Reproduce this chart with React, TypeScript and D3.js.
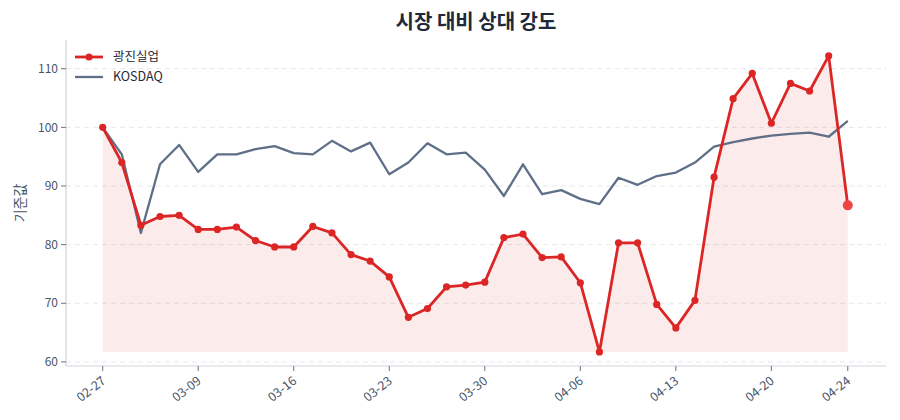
import React from "react";
import * as d3 from "d3";

// 시장 대비 상대 강도 (기준 = 100)
const stockName = "광진실업";
const indexName = "KOSDAQ";

const stockValues = [
  100, 94.0, 83.3, 84.8, 85.0, 82.6, 82.6, 83.0, 80.7, 79.6,
  79.6, 83.1, 82.0, 78.3, 77.2, 74.5, 67.6, 69.1, 72.8, 73.1,
  73.6, 81.2, 81.8, 77.8, 77.9, 73.5, 61.7, 80.3, 80.3, 69.8,
  65.8, 70.5, 91.5, 104.9, 109.2, 100.7, 107.5, 106.2, 112.2, 86.7,
];

const indexValues = [
  100, 95.4, 82.0, 93.7, 97.0, 92.4, 95.4, 95.4, 96.3, 96.8,
  95.6, 95.4, 97.7, 95.9, 97.4, 92.0, 94.0, 97.3, 95.4, 95.7,
  92.8, 88.3, 93.7, 88.6, 89.3, 87.8, 86.9, 91.4, 90.2, 91.7,
  92.3, 94.0, 96.7, 97.5, 98.1, 98.6, 98.9, 99.1, 98.4, 101.1,
];

const tickLabels = ["02-27", "03-09", "03-16", "03-23", "03-30", "04-06", "04-13", "04-20", "04-24"];
const tickIndex = [0, 5, 10, 15, 20, 25, 30, 35, 39];
const yTicks = [60, 70, 80, 90, 100, 110];

const W = 900;
const H = 420;
const FONT = "'Noto Sans CJK KR', 'Noto Sans', sans-serif";

const RED = "#dc2626";
const SLATE = "#5f6f87";
const TEXT = "#475569";

export default function App() {
  const left = 66;
  const right = 886;
  const top = 40;
  const bottom = 366;

  const x = d3.scaleLinear().domain([-1.92, 41.0]).range([left, right]);
  const y = d3.scaleLinear().domain([59.3, 114.9]).range([bottom, top]);

  const line = d3
    .line<number>()
    .x((_, i) => x(i))
    .y((d) => y(d));

  const base = d3.min(stockValues) as number;
  const area = d3
    .area<number>()
    .x((_, i) => x(i))
    .y0(y(base))
    .y1((d) => y(d));

  const last = stockValues.length - 1;

  return (
    <svg
      width={W}
      height={H}
      style={{ position: "fixed", left: 0, top: 0, background: "#fff" }}
      fontFamily={FONT}
    >
      <text x={(left + right) / 2} y={29} textAnchor="middle" fontSize={20} fontWeight={700} fill="#1e293b">
        시장 대비 상대 강도
      </text>

      {/* grid */}
      {yTicks.map((t) => (
        <line key={t} x1={left} x2={right} y1={y(t)} y2={y(t)} stroke="#e5e7eb" strokeDasharray="5,4" strokeWidth={1} />
      ))}

      {/* spines */}
      <line x1={left} x2={left} y1={top} y2={bottom} stroke="#d1d5db" strokeWidth={1.2} />
      <line x1={left} x2={right} y1={bottom} y2={bottom} stroke="#d1d5db" strokeWidth={1.2} />

      {/* y axis */}
      {yTicks.map((t) => (
        <g key={t} transform={`translate(${left},${y(t)})`}>
          <line x1={-5} x2={0} stroke="#64748b" />
          <text x={-8} dy="0.35em" textAnchor="end" fontSize={12} fill={TEXT}>
            {t}
          </text>
        </g>
      ))}
      <text
        transform={`translate(20,${(top + bottom) / 2}) rotate(-90)`}
        textAnchor="middle"
        dy="0.35em"
        fontSize={14}
        fill={TEXT}
      >
        기준값
      </text>

      {/* x axis */}
      {tickIndex.map((idx, k) => (
        <g key={idx} transform={`translate(${x(idx)},${bottom})`}>
          <line y1={0} y2={5} stroke="#64748b" />
          <text
            transform="translate(1,13) rotate(-38)"
            textAnchor="end"
            dy="0.35em"
            fontSize={12.5}
            fill={TEXT}
          >
            {tickLabels[k]}
          </text>
        </g>
      ))}

      {/* series */}
      <path d={area(stockValues) ?? ""} fill={RED} fillOpacity={0.09} />
      <path d={line(indexValues) ?? ""} fill="none" stroke={SLATE} strokeWidth={2.3} strokeLinejoin="round" />
      <path d={line(stockValues) ?? ""} fill="none" stroke={RED} strokeWidth={2.8} strokeLinejoin="round" />
      {stockValues.slice(0, last).map((v, i) => (
        <circle key={i} cx={x(i)} cy={y(v)} r={3.6} fill={RED} />
      ))}
      <circle cx={x(last)} cy={y(stockValues[last])} r={5} fill="#ef4444" />

      {/* legend */}
      <g fontSize={12.5} fill="#1f2937">
        <line x1={75} x2={103} y1={57} y2={57} stroke={RED} strokeWidth={2.8} />
        <circle cx={89} cy={57} r={3.6} fill={RED} />
        <text x={113} y={57} dy="0.35em">
          {stockName}
        </text>
        <line x1={75} x2={103} y1={77} y2={77} stroke={SLATE} strokeWidth={2.3} />
        <text x={113} y={77} dy="0.35em">
          {indexName}
        </text>
      </g>
    </svg>
  );
}
